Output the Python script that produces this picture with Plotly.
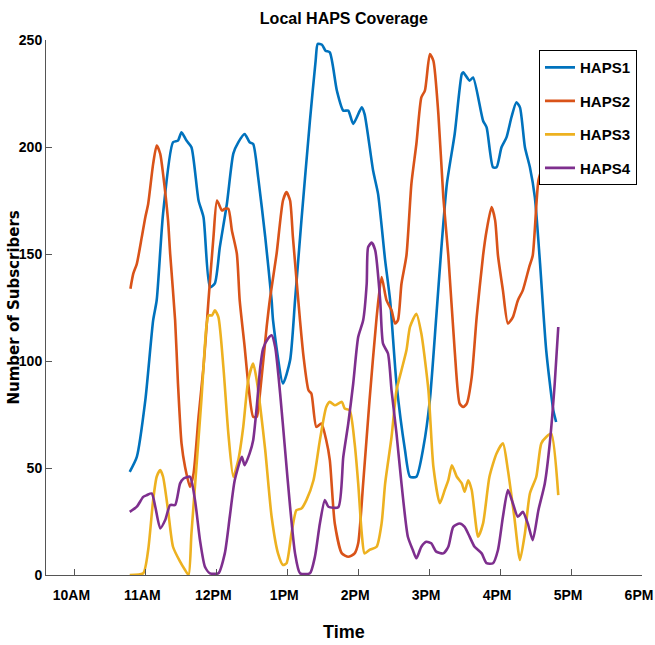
import plotly.graph_objects as go

# ---- data (time in decimal hours, value = number of subscribers) ----
haps1_t = [10.78, 10.88, 11.00, 11.11, 11.16, 11.25, 11.39, 11.46, 11.51, 11.58, 11.65, 11.75, 11.82, 11.91, 11.98,
           12.05, 12.15, 12.24, 12.31, 12.40, 12.47, 12.52, 12.59, 12.69, 12.78, 12.80, 12.94, 13.04, 13.11, 13.20,
           13.32, 13.40, 13.43, 13.49, 13.54, 13.60, 13.70, 13.79, 13.86, 13.93, 14.05, 14.09, 14.21, 14.28, 14.38,
           14.45, 14.54, 14.66, 14.73, 14.82, 14.92, 15.01, 15.10, 15.17, 15.25, 15.36, 15.46, 15.48, 15.57, 15.62,
           15.76, 15.81, 15.90, 15.95, 16.02, 16.09, 16.16, 16.23, 16.28, 16.35, 16.42, 16.49, 16.56, 16.65, 16.75, 16.79]
haps1_v = [48.2, 55.2, 81.7, 119, 128.4, 168.9, 202.2, 203, 206.9, 203, 199.9, 175, 167.2, 134.5, 136.3,
           153.2, 173.6, 196.9, 202.2, 206.1, 202.2, 201.4, 185.9, 157.9, 128.3, 119, 89.5, 100.3, 128.3, 165.7,
           212.3, 240.3, 248.2, 247.8, 245, 244.2, 226.3, 217, 217, 210.8, 218.5, 215.4, 189, 178.1, 147,
           128.3, 89.5, 58.3, 45.9, 45.9, 59.9, 81.7, 120.5, 151.7, 182.8, 206.1, 234.1, 234.9, 231, 232.5,
           212.3, 209.2, 190.5, 190.5, 199.9, 204.5, 213.9, 220.9, 218.5, 199.9, 190.5, 176.5, 147, 105, 77, 71.5]

haps2_t = [10.79, 10.83, 10.88, 10.95, 11.00, 11.04, 11.11, 11.16, 11.21, 11.25, 11.32, 11.35, 11.42, 11.46, 11.51,
           11.56, 11.63, 11.68, 11.75, 11.82, 11.89, 11.96, 12.01, 12.08, 12.12, 12.17, 12.22, 12.29, 12.33, 12.40,
           12.45, 12.52, 12.57, 12.62, 12.71, 12.76, 12.85, 12.94, 12.99, 13.04, 13.08, 13.18, 13.23, 13.30, 13.34,
           13.41, 13.48, 13.55, 13.60, 13.67, 13.77, 13.86, 13.95, 14.00, 14.07, 14.16, 14.26, 14.33, 14.40, 14.47,
           14.52, 14.56, 14.61, 14.68, 14.75, 14.82, 14.89, 14.94, 15.01, 15.06, 15.13, 15.20, 15.27, 15.36, 15.43,
           15.48, 15.53, 15.60, 15.67, 15.76, 15.81, 15.88, 15.93, 15.97, 16.04, 16.11, 16.18, 16.25, 16.32, 16.41,
           16.46, 16.54, 16.61, 16.68, 16.72, 16.77, 16.82]
haps2_v = [133.8, 140.8, 145.4, 157.9, 167.2, 173.4, 192.1, 200.7, 196.8, 187.4, 165.7, 150.1, 119, 89.5, 61.5,
           50.5, 41.2, 47.5, 73.9, 97.2, 128.3, 157.9, 175, 170.3, 171.1, 171.1, 161, 150.1, 128.3, 106.5,
           89.5, 73.9, 73.9, 86.3, 115.9, 129.9, 150.1, 175, 178.9, 175, 157.9, 119, 101.9, 86.3, 84.8,
           69.2, 70.8, 63, 53.7, 24.1, 10.1, 8.5, 10.1, 14.8, 42.8, 81.7, 120.5, 139.2, 128.3, 123.7,
           117.5, 119, 136.1, 149.3, 182.8, 201.4, 223.2, 226.3, 243.4, 240.3, 215.4, 176.5, 149.3, 105, 80.1,
           78.5, 80.1, 92.5, 120.5, 149.3, 161, 171.9, 165.7, 149.3, 133, 117.5, 120.5, 128.3, 133, 143.9,
           149.3, 184.3, 192.1, 201.4, 204.5, 203, 202.2]

haps3_t = [10.78, 10.97, 11.04, 11.11, 11.16, 11.21, 11.25, 11.32, 11.39, 11.49, 11.56, 11.61, 11.65, 11.72, 11.79,
           11.86, 11.89, 11.94, 11.98, 12.03, 12.10, 12.17, 12.24, 12.31, 12.38, 12.45, 12.52, 12.57, 12.62, 12.69,
           12.78, 12.87, 12.94, 12.99, 13.06, 13.13, 13.20, 13.27, 13.37, 13.46, 13.55, 13.60, 13.67, 13.77, 13.81,
           13.88, 13.95, 14.00, 14.05, 14.09, 14.16, 14.26, 14.33, 14.38, 14.47, 14.54, 14.61, 14.68, 14.73, 14.82,
           14.89, 14.99, 15.06, 15.15, 15.22, 15.27, 15.32, 15.39, 15.46, 15.50, 15.55, 15.60, 15.69, 15.76, 15.85,
           15.95, 16.04, 16.11, 16.20, 16.28, 16.35, 16.42, 16.51, 16.58, 16.65, 16.72, 16.82]
haps3_v = [0, 0.8, 11.7, 35, 45.9, 49, 45.9, 30.3, 13.2, 6.2, 2.3, 0, 19.5, 50.5, 81.7,
           115.9, 121.3, 121.3, 123.7, 120.5, 97.2, 66.1, 45.9, 53.7, 69.2, 91, 98.8, 91, 78.5, 58.3,
           27.2, 10.1, 4.7, 5.5, 19.5, 30.3, 31.1, 35, 44.3, 63, 78.5, 80.9, 79.3, 80.9, 77.8,
           77, 61.5, 42.8, 19.5, 10.1, 11.7, 13.2, 24.1, 42.8, 64.5, 86.3, 95.7, 105, 115.9, 122.1,
           112.8, 86.3, 50.5, 33.5, 39.7, 44.3, 51.3, 45.9, 42.8, 38.9, 44.3, 39.7, 17.9, 24.1, 45.9,
           56.8, 61.5, 49, 27.2, 7, 19.5, 38.1, 45.9, 61.5, 64.5, 66.1, 37.3]

haps4_t = [10.78, 10.88, 10.97, 11.02, 11.09, 11.14, 11.21, 11.28, 11.35, 11.42, 11.49, 11.54, 11.63, 11.70, 11.77,
           11.84, 11.91, 12.03, 12.12, 12.19, 12.26, 12.36, 12.40, 12.47, 12.52, 12.57, 12.62, 12.66, 12.73, 12.78,
           12.83, 12.90, 12.97, 13.04, 13.11, 13.18, 13.32, 13.39, 13.46, 13.53, 13.58, 13.72, 13.79, 13.86, 13.93,
           14.00, 14.07, 14.12, 14.14, 14.19, 14.24, 14.31, 14.35, 14.42, 14.47, 14.54, 14.61, 14.70, 14.77, 14.82,
           14.89, 14.96, 15.03, 15.10, 15.20, 15.27, 15.34, 15.43, 15.50, 15.57, 15.64, 15.74, 15.81, 15.90, 15.97,
           16.04, 16.11, 16.18, 16.25, 16.32, 16.39, 16.46, 16.54, 16.63, 16.70, 16.77, 16.82]
haps4_v = [29.5, 31.9, 36.5, 37.3, 38.1, 31.9, 21.8, 25.7, 32.7, 32.7, 42.8, 45.1, 45.9, 35, 16.3,
           3.9, 0.8, 0.8, 10.1, 27.2, 44.3, 55.2, 51.3, 56.8, 63, 78.5, 97.2, 105.8, 110.5, 112,
           106.5, 84.8, 58.3, 31.9, 10.1, 0.8, 0.8, 8.5, 24.1, 35, 31.9, 31.7, 55.2, 70.8, 89.5,
           111.2, 119, 136.1, 153.2, 155.3, 151.7, 128.3, 108.1, 103.5, 86.3, 66.1, 42.8, 17.9, 11.7, 7.8,
           13.2, 15.5, 14.8, 10.9, 10.1, 13.2, 22.5, 24.1, 22.5, 17.9, 13.2, 10.1, 5.5, 5.5, 11.7,
           27.2, 39.7, 33.5, 27.2, 29.5, 24.1, 16.3, 30.3, 42.8, 61.5, 89.5, 115.9]

series_names = ["HAPS1", "HAPS2", "HAPS3", "HAPS4"]
tick_vals = [10, 11, 12, 13, 14, 15, 16, 17, 18]
tick_text = ["10AM", "11AM", "12PM", "1PM", "2PM", "3PM", "4PM", "5PM", "6PM"]
y_ticks = [0, 50, 100, 150, 200, 250]

colors = ["#0072BD", "#D95319", "#EDB120", "#7E2F8E"]
FONT = "Liberation Sans, Arial, sans-serif"

fig = go.Figure()
for name, t, v, c in zip(series_names,
                         [haps1_t, haps2_t, haps3_t, haps4_t],
                         [haps1_v, haps2_v, haps3_v, haps4_v],
                         colors):
    fig.add_trace(go.Scatter(x=t, y=v, mode="lines", name="<b>%s</b>" % name, legendgroup=name,
                             line=dict(color=c, width=2.6, shape="spline", smoothing=0.6)))

axis_col = "#555555"
fig.update_layout(
    width=655, height=645,
    margin=dict(l=46, r=13, t=40, b=70),
    paper_bgcolor="white", plot_bgcolor="white",
    title=dict(text="<b>Local HAPS Coverage</b>", x=0.525, xanchor="center", y=0.972, yanchor="middle",
               font=dict(family=FONT, size=16, color="black")),
    showlegend=True,
    legend=dict(x=0.9916, y=0.981, xanchor="right", yanchor="top",
                bordercolor="black", borderwidth=1, bgcolor="white",
                font=dict(family=FONT, size=15, color="black"),
                tracegroupgap=11, itemwidth=30),
    xaxis=dict(range=[9.6, 18], tickmode="array", tickvals=tick_vals,
               ticktext=["<b>%s</b>" % s for s in tick_text],
               ticks="inside", ticklen=6, tickcolor=axis_col, tickwidth=1,
               showline=True, linecolor=axis_col, linewidth=1, showgrid=False, zeroline=False,
               automargin=False, ticklabeloverflow="allow", ticklabelstandoff=7, ticklabelshift=-3,
               tickfont=dict(family=FONT, size=14, color="black")),
    yaxis=dict(range=[0, 250], tickmode="array", tickvals=y_ticks,
               ticktext=["<b>%d</b>" % v for v in y_ticks],
               ticks="inside", ticklen=6, tickcolor=axis_col, tickwidth=1,
               showline=True, linecolor=axis_col, linewidth=1, showgrid=False, zeroline=False,
               automargin=False, ticklabeloverflow="allow",
               tickfont=dict(family=FONT, size=14, color="black")),
    annotations=[
        dict(text="<b>Number of Subscribers</b>", textangle=-90,
             xref="paper", yref="paper", x=0, y=0.5, xshift=-33,
             xanchor="center", yanchor="middle", showarrow=False,
             font=dict(family="DejaVu Sans", size=15, color="black")),
        dict(text="<b>Time</b>", xref="paper", yref="paper", x=0.5, y=0, yshift=-57,
             xanchor="center", yanchor="middle", showarrow=False,
             font=dict(family=FONT, size=18, color="black")),
    ],
)

fig.write_html("out.html", config={"displayModeBar": False},
               post_script="document.body.style.margin='0';document.body.style.overflow='hidden';")
